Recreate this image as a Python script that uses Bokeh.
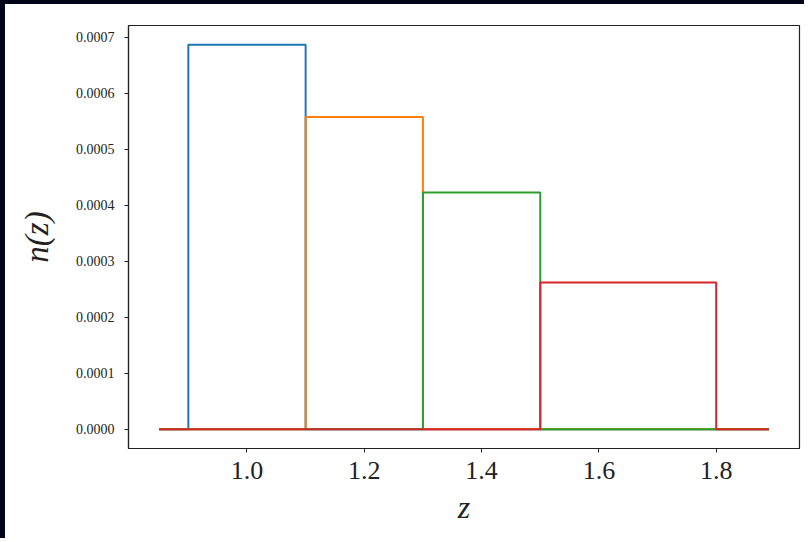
from bokeh.plotting import figure
from bokeh.models import FixedTicker, Range1d
from bokeh.embed import file_html
from bokeh.resources import INLINE

# Data
z_min = 0.85
z_max = 1.89
bin_lo = [0.9, 1.1, 1.3, 1.5]
bin_hi = [1.1, 1.3, 1.5, 1.8]
heights = [0.000687, 0.000558, 0.000423, 0.000262]
colors = ["#1f77b4", "#ff7f0e", "#2ca02c", "#d62728"]

x_ticks = [1.0, 1.2, 1.4, 1.6, 1.8]
x_tick_labels = ["1.0", "1.2", "1.4", "1.6", "1.8"]
y_ticks = [0.0, 0.0001, 0.0002, 0.0003, 0.0004, 0.0005, 0.0006, 0.0007]
y_tick_labels = ["0.0000", "0.0001", "0.0002", "0.0003", "0.0004", "0.0005", "0.0006", "0.0007"]

SERIF = "'Liberation Serif', 'Times New Roman', Times, serif"

span = z_max - z_min
ymax = max(heights)

p = figure(width=804, height=538, output_backend="svg", toolbar_location=None,
           x_range=Range1d(z_min - 0.05 * span, z_max + 0.05 * span),
           y_range=Range1d(-0.05 * ymax, 1.05 * ymax),
           min_border_left=123, min_border_right=10, min_border_top=21, min_border_bottom=94)
p.styles = {"border-left": "5px solid #02041a", "border-top": "4px solid #02041a"}

for lo, hi, h, c in zip(bin_lo, bin_hi, heights, colors):
    xs = [z_min, lo, lo, hi, hi, z_max]
    ys = [0, 0, h, h, 0, 0]
    p.line(xs, ys, line_color=c, line_width=2)

p.grid.visible = False
p.outline_line_color = "#222222"
p.outline_line_width = 1.2
p.background_fill_color = "white"
p.border_fill_color = "white"

xa = p.xaxis[0]
xa.ticker = FixedTicker(ticks=x_ticks)
xa.major_label_overrides = {t: l for t, l in zip(x_ticks, x_tick_labels)}
xa.axis_label = "z"
xa.axis_label_text_font = SERIF
xa.axis_label_text_font_style = "italic"
xa.axis_label_text_font_size = "32px"
xa.axis_label_standoff = 7
xa.major_label_text_font = SERIF
xa.major_label_text_font_size = "26px"
xa.major_label_standoff = 9

ya = p.yaxis[0]
ya.ticker = FixedTicker(ticks=y_ticks)
ya.major_label_overrides = {t: l for t, l in zip(y_ticks, y_tick_labels)}
ya.axis_label = "n(z)"
ya.axis_label_text_font = SERIF
ya.axis_label_text_font_style = "italic"
ya.axis_label_text_font_size = "33px"
ya.axis_label_standoff = 18
ya.major_label_text_font = SERIF
ya.major_label_text_font_size = "14px"
ya.major_label_standoff = 10

for ax in (xa, ya):
    ax.minor_tick_line_color = None
    ax.major_tick_in = 0
    ax.major_tick_out = 4
    ax.major_tick_line_color = "#222222"
    ax.axis_line_color = "#222222"
    ax.axis_line_width = 1.2
    ax.major_label_text_color = "#222222"
    ax.axis_label_text_color = "#222222"

open("out.html", "w").write(file_html(p, INLINE))
